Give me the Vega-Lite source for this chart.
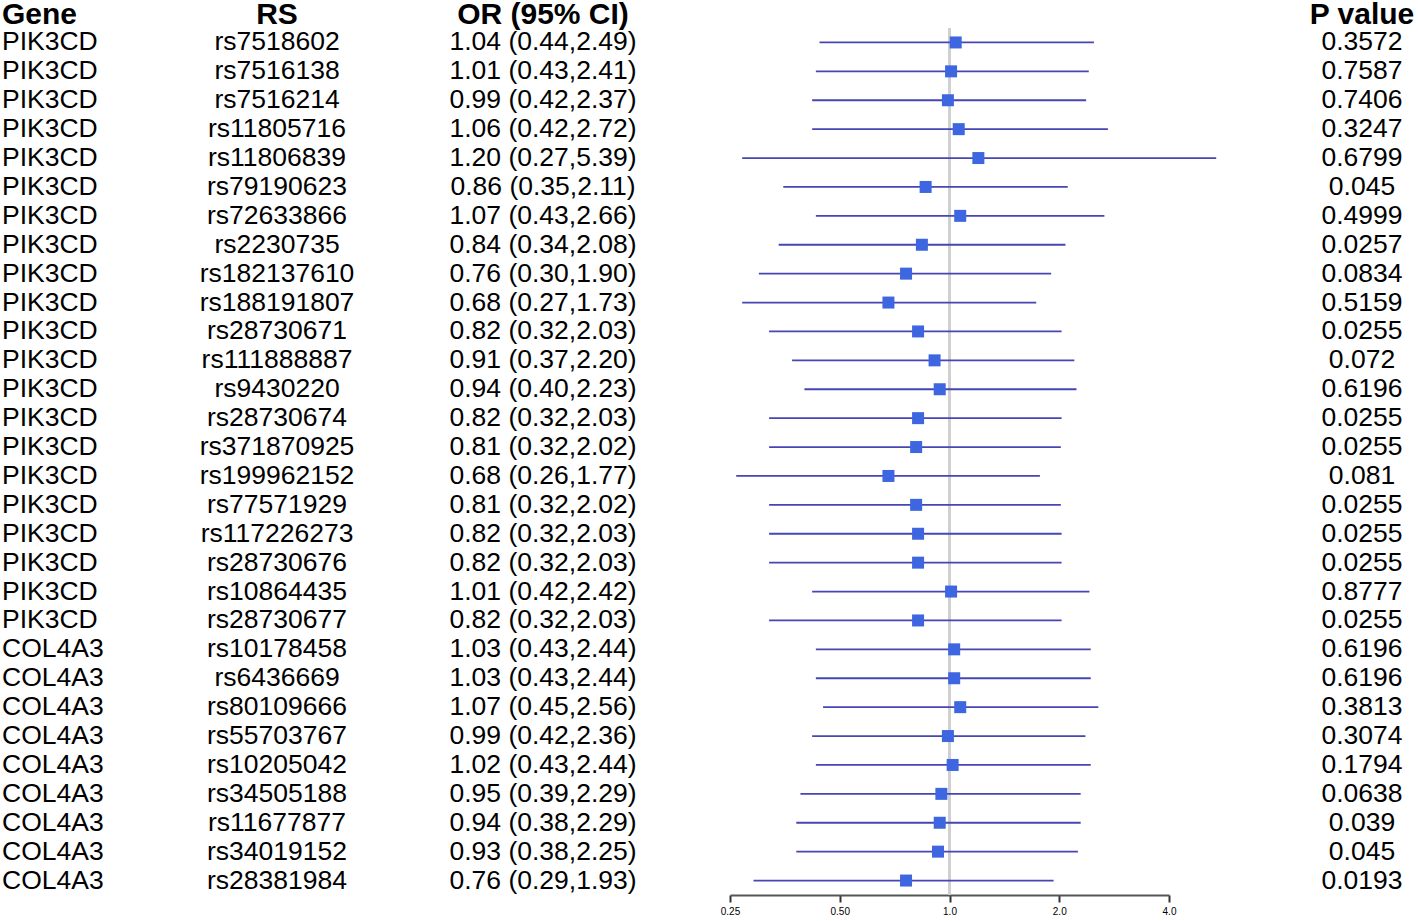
{
  "$schema": "https://vega.github.io/schema/vega-lite/v6.json",
  "padding": 0,
  "bounds": "flush",
  "spacing": 0,
  "config": {
    "view": {"stroke": null},
    "font": "Liberation Sans",
    "title": {"fontSize": 30, "fontWeight": "bold", "font": "Liberation Sans", "color": "#000000", "baseline": "alphabetic", "offset": -2}
  },
  "data": {"values": [
    {"Gene": "PIK3CD", "RS": "rs7518602", "OR": 1.04, "lo": 0.44, "hi": 2.49, "ci": "1.04 (0.44,2.49)", "P": "0.3572"},
    {"Gene": "PIK3CD", "RS": "rs7516138", "OR": 1.01, "lo": 0.43, "hi": 2.41, "ci": "1.01 (0.43,2.41)", "P": "0.7587"},
    {"Gene": "PIK3CD", "RS": "rs7516214", "OR": 0.99, "lo": 0.42, "hi": 2.37, "ci": "0.99 (0.42,2.37)", "P": "0.7406"},
    {"Gene": "PIK3CD", "RS": "rs11805716", "OR": 1.06, "lo": 0.42, "hi": 2.72, "ci": "1.06 (0.42,2.72)", "P": "0.3247"},
    {"Gene": "PIK3CD", "RS": "rs11806839", "OR": 1.20, "lo": 0.27, "hi": 5.39, "ci": "1.20 (0.27,5.39)", "P": "0.6799"},
    {"Gene": "PIK3CD", "RS": "rs79190623", "OR": 0.86, "lo": 0.35, "hi": 2.11, "ci": "0.86 (0.35,2.11)", "P": "0.045"},
    {"Gene": "PIK3CD", "RS": "rs72633866", "OR": 1.07, "lo": 0.43, "hi": 2.66, "ci": "1.07 (0.43,2.66)", "P": "0.4999"},
    {"Gene": "PIK3CD", "RS": "rs2230735", "OR": 0.84, "lo": 0.34, "hi": 2.08, "ci": "0.84 (0.34,2.08)", "P": "0.0257"},
    {"Gene": "PIK3CD", "RS": "rs182137610", "OR": 0.76, "lo": 0.30, "hi": 1.90, "ci": "0.76 (0.30,1.90)", "P": "0.0834"},
    {"Gene": "PIK3CD", "RS": "rs188191807", "OR": 0.68, "lo": 0.27, "hi": 1.73, "ci": "0.68 (0.27,1.73)", "P": "0.5159"},
    {"Gene": "PIK3CD", "RS": "rs28730671", "OR": 0.82, "lo": 0.32, "hi": 2.03, "ci": "0.82 (0.32,2.03)", "P": "0.0255"},
    {"Gene": "PIK3CD", "RS": "rs111888887", "OR": 0.91, "lo": 0.37, "hi": 2.20, "ci": "0.91 (0.37,2.20)", "P": "0.072"},
    {"Gene": "PIK3CD", "RS": "rs9430220", "OR": 0.94, "lo": 0.40, "hi": 2.23, "ci": "0.94 (0.40,2.23)", "P": "0.6196"},
    {"Gene": "PIK3CD", "RS": "rs28730674", "OR": 0.82, "lo": 0.32, "hi": 2.03, "ci": "0.82 (0.32,2.03)", "P": "0.0255"},
    {"Gene": "PIK3CD", "RS": "rs371870925", "OR": 0.81, "lo": 0.32, "hi": 2.02, "ci": "0.81 (0.32,2.02)", "P": "0.0255"},
    {"Gene": "PIK3CD", "RS": "rs199962152", "OR": 0.68, "lo": 0.26, "hi": 1.77, "ci": "0.68 (0.26,1.77)", "P": "0.081"},
    {"Gene": "PIK3CD", "RS": "rs77571929", "OR": 0.81, "lo": 0.32, "hi": 2.02, "ci": "0.81 (0.32,2.02)", "P": "0.0255"},
    {"Gene": "PIK3CD", "RS": "rs117226273", "OR": 0.82, "lo": 0.32, "hi": 2.03, "ci": "0.82 (0.32,2.03)", "P": "0.0255"},
    {"Gene": "PIK3CD", "RS": "rs28730676", "OR": 0.82, "lo": 0.32, "hi": 2.03, "ci": "0.82 (0.32,2.03)", "P": "0.0255"},
    {"Gene": "PIK3CD", "RS": "rs10864435", "OR": 1.01, "lo": 0.42, "hi": 2.42, "ci": "1.01 (0.42,2.42)", "P": "0.8777"},
    {"Gene": "PIK3CD", "RS": "rs28730677", "OR": 0.82, "lo": 0.32, "hi": 2.03, "ci": "0.82 (0.32,2.03)", "P": "0.0255"},
    {"Gene": "COL4A3", "RS": "rs10178458", "OR": 1.03, "lo": 0.43, "hi": 2.44, "ci": "1.03 (0.43,2.44)", "P": "0.6196"},
    {"Gene": "COL4A3", "RS": "rs6436669", "OR": 1.03, "lo": 0.43, "hi": 2.44, "ci": "1.03 (0.43,2.44)", "P": "0.6196"},
    {"Gene": "COL4A3", "RS": "rs80109666", "OR": 1.07, "lo": 0.45, "hi": 2.56, "ci": "1.07 (0.45,2.56)", "P": "0.3813"},
    {"Gene": "COL4A3", "RS": "rs55703767", "OR": 0.99, "lo": 0.42, "hi": 2.36, "ci": "0.99 (0.42,2.36)", "P": "0.3074"},
    {"Gene": "COL4A3", "RS": "rs10205042", "OR": 1.02, "lo": 0.43, "hi": 2.44, "ci": "1.02 (0.43,2.44)", "P": "0.1794"},
    {"Gene": "COL4A3", "RS": "rs34505188", "OR": 0.95, "lo": 0.39, "hi": 2.29, "ci": "0.95 (0.39,2.29)", "P": "0.0638"},
    {"Gene": "COL4A3", "RS": "rs11677877", "OR": 0.94, "lo": 0.38, "hi": 2.29, "ci": "0.94 (0.38,2.29)", "P": "0.039"},
    {"Gene": "COL4A3", "RS": "rs34019152", "OR": 0.93, "lo": 0.38, "hi": 2.25, "ci": "0.93 (0.38,2.25)", "P": "0.045"},
    {"Gene": "COL4A3", "RS": "rs28381984", "OR": 0.76, "lo": 0.29, "hi": 1.93, "ci": "0.76 (0.29,1.93)", "P": "0.0193"}
  ]},
  "hconcat": [
    {
      "width": 198, "height": 867,
      "title": {"text": "Gene", "anchor": "start", "dx": 2},
      "mark": {"type": "text", "align": "left", "dx": 2, "fontSize": 26.5, "font": "Liberation Sans", "color": "#000000"},
      "encoding": {
        "y": {"field": "RS", "type": "nominal", "sort": null, "axis": null, "scale": {"type": "point", "padding": 0.5}},
        "x": {"datum": 0, "type": "quantitative", "scale": {"domain": [0, 1]}, "axis": null},
        "text": {"field": "Gene"}
      }
    },
    {
      "width": 158, "height": 867,
      "title": {"text": "RS", "anchor": "middle"},
      "mark": {"type": "text", "align": "center", "fontSize": 26.5, "font": "Liberation Sans", "color": "#000000"},
      "encoding": {
        "y": {"field": "RS", "type": "nominal", "sort": null, "axis": null, "scale": {"type": "point", "padding": 0.5}},
        "x": {"datum": 0.5, "type": "quantitative", "scale": {"domain": [0, 1]}, "axis": null},
        "text": {"field": "RS"}
      }
    },
    {
      "width": 374, "height": 867,
      "title": {"text": "OR (95% CI)", "anchor": "middle"},
      "mark": {"type": "text", "align": "center", "fontSize": 26.5, "font": "Liberation Sans", "color": "#000000"},
      "encoding": {
        "y": {"field": "RS", "type": "nominal", "sort": null, "axis": null, "scale": {"type": "point", "padding": 0.5}},
        "x": {"datum": 0.5, "type": "quantitative", "scale": {"domain": [0, 1]}, "axis": null},
        "text": {"field": "ci"}
      }
    },
    {
      "bounds": "flush",
      "spacing": 137,
      "hconcat": [
        {
          "width": 439, "height": 867,
          "layer": [
            {
              "mark": {"type": "rule", "color": "#d0d0d0", "strokeWidth": 1.5},
              "encoding": {
                "x": {"datum": 1, "type": "quantitative"}
              }
            },
            {
              "mark": {"type": "rule", "color": "#4646b4", "strokeWidth": 1.8},
              "encoding": {
                "y": {"field": "RS", "type": "nominal", "sort": null, "axis": null, "scale": {"type": "point", "padding": 0.5}},
                "x": {"field": "lo", "type": "quantitative",
                  "scale": {"type": "log", "domain": [0.25, 4], "nice": false, "zero": false},
                  "axis": {"values": [0.25, 0.5, 1, 2, 4], "title": null, "grid": false,
                    "labelExpr": "datum.value == 0.25 ? '0.25' : datum.value == 0.5 ? '0.50' : format(datum.value, '.1f')",
                    "domainColor": "#555555", "domainWidth": 2, "tickColor": "#333333", "tickWidth": 2, "tickSize": 7,
                    "labelFontSize": 10, "labelColor": "#000000", "labelPadding": 4, "labelFlush": false, "labelFont": "Liberation Sans"}},
                "x2": {"field": "hi"}
              }
            },
            {
              "mark": {"type": "square", "filled": true, "opacity": 1, "size": 144, "color": "#3d66e0"},
              "encoding": {
                "y": {"field": "RS", "type": "nominal", "sort": null},
                "x": {"field": "OR", "type": "quantitative"}
              }
            }
          ]
        },
        {
          "width": 112, "height": 867,
          "title": {"text": "P value", "anchor": "middle"},
          "mark": {"type": "text", "align": "center", "fontSize": 26.5, "font": "Liberation Sans", "color": "#000000"},
          "encoding": {
            "y": {"field": "RS", "type": "nominal", "sort": null, "axis": null, "scale": {"type": "point", "padding": 0.5}},
            "x": {"datum": 0.5, "type": "quantitative", "scale": {"domain": [0, 1]}, "axis": null},
            "text": {"field": "P"}
          }
        }
      ]
    }
  ]
}
